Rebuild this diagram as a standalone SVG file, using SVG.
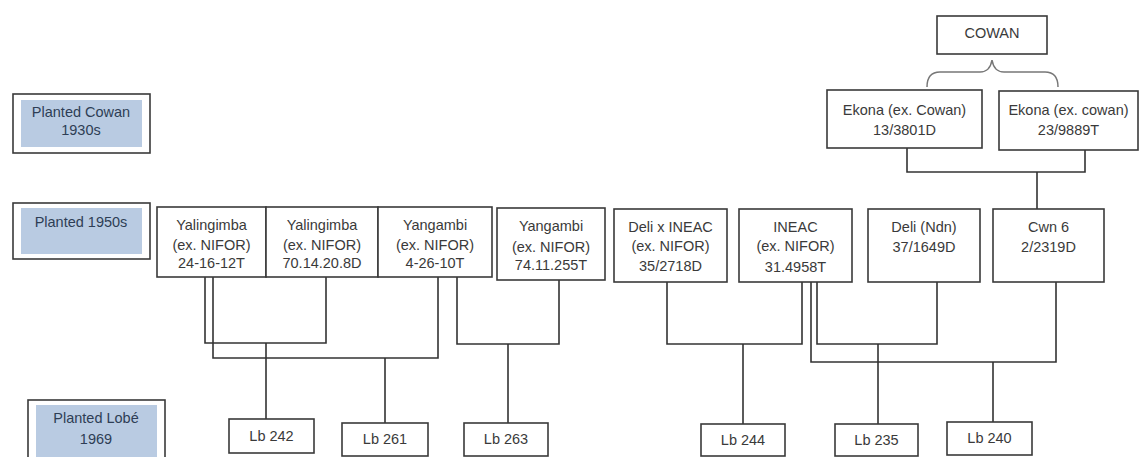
<svg xmlns="http://www.w3.org/2000/svg" width="1144" height="457" viewBox="0 0 1144 457">
<style>
.bg{fill:#ffffff}
.node{fill:#ffffff;stroke:#3a3a3a;stroke-width:1.6}
.lab-out{fill:#ffffff;stroke:#3a3a3a;stroke-width:1.6}
.lab-in{fill:#b9cbe2;stroke:none}
.t{font-family:"Liberation Sans",Arial,sans-serif;font-size:14.5px;fill:#3a3a3a;text-anchor:middle}
.lt{font-family:"Liberation Sans",Arial,sans-serif;font-size:14.5px;fill:#2e3e55;text-anchor:middle}
.con{fill:none;stroke:#333333;stroke-width:1.6}
.brace{fill:none;stroke:#777777;stroke-width:1.5}
</style>
<rect class="bg" x="0" y="0" width="1144" height="457"/>

<g id="label-cowan">
<rect class="lab-out" x="13" y="94" width="137" height="59"/>
<rect class="lab-in" x="21" y="100" width="121" height="47"/>
<text class="lt" x="81" y="117">Planted Cowan</text>
<text class="lt" x="81" y="135">1930s</text>
</g>
<g id="label-1950s">
<rect class="lab-out" x="13" y="203" width="137" height="56"/>
<rect class="lab-in" x="21" y="208" width="121" height="46"/>
<text class="lt" x="81" y="227">Planted 1950s</text>
</g>
<g id="label-lobe">
<rect class="lab-out" x="28" y="400" width="137" height="62"/>
<rect class="lab-in" x="36" y="405" width="121" height="57"/>
<text class="lt" x="96" y="423">Planted Lobé</text>
<text class="lt" x="96" y="444">1969</text>
</g>

<g id="connectors">
<path class="brace" d="M927,87 Q927,72 940,72 L980,72 Q990,72 992,60 Q994,72 1004,72 L1045,72 Q1058,72 1058,87"/>
<path class="con" d="M907,148 V172 H1085 V150 M1037,172 V209"/>
<path class="con" d="M205,277 V343 H326 V277 M266,343 V419"/>
<path class="con" d="M213,277 V358 H438 V277 M385,358 V423"/>
<path class="con" d="M457,277 V344 H559 V280 M508,344 V423"/>
<path class="con" d="M667,282 V344 H802 V282 M743,344 V424"/>
<path class="con" d="M817,282 V344 H937 V282 M878,344 V424"/>
<path class="con" d="M811,282 V362 H1056 V282 M993,362 V422"/>
</g>

<g id="cowan">
<rect class="node" x="937" y="16" width="110" height="38"/>
<text class="t" x="992" y="38">COWAN</text>
</g>
<g id="ekona1">
<rect class="node" x="827" y="90" width="155" height="58"/>
<text class="t" x="904.5" y="115">Ekona (ex. Cowan)</text>
<text class="t" x="904.5" y="135">13/3801D</text>
</g>
<g id="ekona2">
<rect class="node" x="999" y="91" width="139" height="59"/>
<text class="t" x="1068.5" y="115">Ekona (ex. cowan)</text>
<text class="t" x="1068.5" y="135">23/9889T</text>
</g>

<g id="yal1">
<rect class="node" x="157" y="207" width="109" height="70"/>
<text class="t" x="211.5" y="230">Yalingimba</text>
<text class="t" x="211.5" y="250">(ex. NIFOR)</text>
<text class="t" x="211.5" y="268">24-16-12T</text>
</g>
<g id="yal2">
<rect class="node" x="266" y="207" width="112" height="70"/>
<text class="t" x="322" y="230">Yalingimba</text>
<text class="t" x="322" y="250">(ex. NIFOR)</text>
<text class="t" x="322" y="268">70.14.20.8D</text>
</g>
<g id="yan1">
<rect class="node" x="378" y="207" width="114" height="70"/>
<text class="t" x="435" y="230">Yangambi</text>
<text class="t" x="435" y="250">(ex. NIFOR)</text>
<text class="t" x="435" y="268">4-26-10T</text>
</g>
<g id="yan2">
<rect class="node" x="497" y="208" width="108" height="72"/>
<text class="t" x="551" y="231">Yangambi</text>
<text class="t" x="551" y="252">(ex. NIFOR)</text>
<text class="t" x="551" y="270">74.11.255T</text>
</g>
<g id="delixineac">
<rect class="node" x="614" y="209" width="113" height="73"/>
<text class="t" x="670.5" y="232">Deli x INEAC</text>
<text class="t" x="670.5" y="251">(ex. NIFOR)</text>
<text class="t" x="670.5" y="271">35/2718D</text>
</g>
<g id="ineac">
<rect class="node" x="739" y="209" width="113" height="73"/>
<text class="t" x="795.5" y="232">INEAC</text>
<text class="t" x="795.5" y="251">(ex. NIFOR)</text>
<text class="t" x="795.5" y="272">31.4958T</text>
</g>
<g id="deli">
<rect class="node" x="868" y="209" width="112" height="73"/>
<text class="t" x="924" y="232">Deli (Ndn)</text>
<text class="t" x="924" y="252">37/1649D</text>
</g>
<g id="cwn6">
<rect class="node" x="993" y="209" width="111" height="73"/>
<text class="t" x="1048.5" y="232">Cwn 6</text>
<text class="t" x="1048.5" y="252">2/2319D</text>
</g>

<g id="lb242">
<rect class="node" x="229" y="419" width="85" height="34"/>
<text class="t" x="271.5" y="441">Lb 242</text>
</g>
<g id="lb261">
<rect class="node" x="342" y="423" width="86" height="33"/>
<text class="t" x="385" y="444">Lb 261</text>
</g>
<g id="lb263">
<rect class="node" x="464" y="423" width="84" height="33"/>
<text class="t" x="506" y="444">Lb 263</text>
</g>
<g id="lb244">
<rect class="node" x="701" y="424" width="84" height="32"/>
<text class="t" x="743" y="445">Lb 244</text>
</g>
<g id="lb235">
<rect class="node" x="835" y="424" width="83" height="32"/>
<text class="t" x="876.5" y="445">Lb 235</text>
</g>
<g id="lb240">
<rect class="node" x="947" y="422" width="85" height="33"/>
<text class="t" x="989.5" y="443">Lb 240</text>
</g>
</svg>
